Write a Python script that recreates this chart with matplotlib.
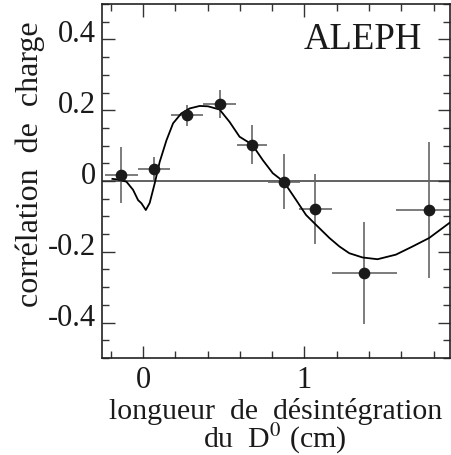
import numpy as np
import matplotlib
matplotlib.use("Agg")
import matplotlib.pyplot as plt
from matplotlib.ticker import MultipleLocator, FixedLocator
from matplotlib.transforms import ScaledTranslation

# ------------------------------
# Données
# ------------------------------
x_pts = [-0.134, 0.066, 0.274, 0.474, 0.676, 0.872, 1.068, 1.371, 1.769]
y_pts = [0.017, 0.034, 0.186, 0.217, 0.103, -0.002, -0.079, -0.26, -0.082]
y_err = [0.08, 0.033, 0.03, 0.04, 0.054, 0.077, 0.1, 0.145, 0.192]
x_err = [0.1, 0.1, 0.1, 0.1, 0.093, 0.1, 0.1, 0.2, 0.2]

# courbe ajustée (points relevés)
x_fit = [-0.19, -0.15, -0.103, -0.062, -0.031, -0.01, 0.017, 0.041, 0.072, 0.103,
         0.145, 0.186, 0.237, 0.289, 0.351, 0.402, 0.474, 0.536, 0.598, 0.676,
         0.742, 0.804, 0.872, 0.949, 1.01, 1.072, 1.155, 1.217, 1.278, 1.36,
         1.453, 1.567, 1.67, 1.773, 1.9]
y_fit = [0.006, 0.004, -0.002, -0.025, -0.054, -0.063, -0.082, -0.062, -0.007, 0.054,
         0.115, 0.163, 0.191, 0.205, 0.212, 0.211, 0.202, 0.167, 0.125, 0.103,
         0.059, 0.022, -0.002, -0.054, -0.096, -0.124, -0.161, -0.185, -0.204, -0.216,
         -0.221, -0.208, -0.185, -0.161, -0.118]

y_ticks = [-0.4, -0.2, 0.0, 0.2, 0.4]
y_ticklabels = ["-0.4", "-0.2", "0", "0.2", "0.4"]
x_ticks = [0, 1]
x_ticklabels = ["0", "1"]

plt.rcParams['font.family'] = ['Liberation Serif', 'DejaVu Serif']
plt.rcParams['mathtext.fontset'] = 'stix'

fig = plt.figure(figsize=(4.51, 4.55), dpi=100)
ax = fig.add_axes([0.226, 0.2132, 0.771, 0.778])

ax.axhline(0, color='#555555', lw=1.3, zorder=1)
ax.errorbar(x_pts, y_pts, yerr=y_err, xerr=x_err, fmt='none',
            ecolor='#666666', elinewidth=1.2, capsize=0, zorder=2)
ax.plot(x_fit, y_fit, color='black', lw=1.3, zorder=3)
ax.plot(x_pts, y_pts, 'o', color='#1a1a1a', ms=7.4, zorder=4)

ax.set_xlim(-0.255, 1.9)
ax.set_ylim(-0.5, 0.5)

ax.yaxis.set_major_locator(FixedLocator(y_ticks))
ax.set_yticklabels(y_ticklabels)
ax.yaxis.set_minor_locator(MultipleLocator(0.05))
ax.xaxis.set_major_locator(FixedLocator(x_ticks))
ax.set_xticklabels(x_ticklabels)
ax.xaxis.set_minor_locator(MultipleLocator(0.2))

ax.tick_params(which='both', direction='in', top=True, right=True,
               color='#333333', width=1.0, labelsize=22, labelcolor='#1a1a1a')
ax.tick_params(which='major', length=9)
ax.tick_params(which='minor', length=5)
ax.tick_params(axis='y', pad=4)
ax.tick_params(axis='x', pad=6)
for lab in ax.get_yticklabels():
    lab.set_transform(lab.get_transform() + ScaledTranslation(0, 8 / 100, fig.dpi_scale_trans))

for sp in ax.spines.values():
    sp.set_linewidth(1.2)
    sp.set_color('#222222')

ax.text(0.75, 0.9, "ALEPH", transform=ax.transAxes, fontsize=26.5,
        ha='center', va='center', color='#1a1a1a')

fig.text(0.066, 0.64, "corrélation  de  charge", rotation=90, fontsize=23,
         ha='center', va='center', color='#1a1a1a')
fig.text(0.612, 0.096, "longueur  de  désintégration", fontsize=21.5,
         ha='center', va='center', color='#1a1a1a')
fig.text(0.61, 0.036, r"du  D$^{0}$ (cm)", fontsize=21.5,
         ha='center', va='center', color='#1a1a1a')

fig.savefig("out.png", dpi=100)
